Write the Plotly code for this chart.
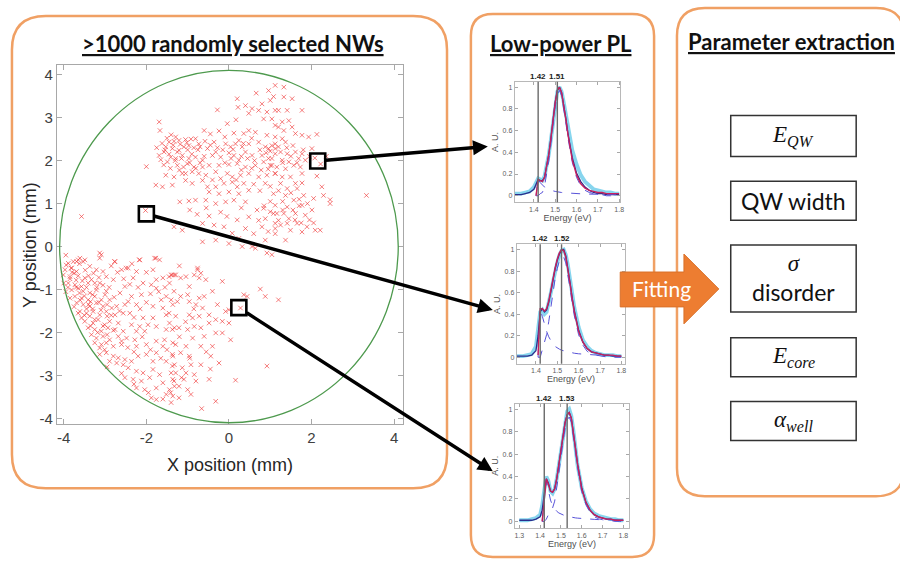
import plotly.graph_objects as go

W, H = 900, 562

# ---------------- nanowire positions on the wafer (mm) ----------------
nw_upper = [
    (0.66, 3.57), (0.96, 3.63), (1.08, 3.49), (0.20, 3.44), (0.80, 3.32), (0.40, 3.28), (0.56, 3.21),
    (0.72, 3.17), (0.92, 3.13), (1.12, 3.17), (-0.28, 3.18), (0.22, 3.24), (0.48, 3.10), (0.84, 2.97),
    (0.17, 2.95), (1.12, 2.82), (-0.04, 2.86), (-1.69, 2.90), (-1.67, 2.70), (-0.60, 2.70), (-0.24, 2.69),
    (0.12, 2.64), (0.36, 2.63), (0.48, 2.70), (0.64, 2.66), (0.92, 2.59), (1.12, 2.55), (0.24, 2.47),
    (-0.81, 2.51), (-1.29, 2.55), (-1.21, 2.47), (-1.05, 2.49), (-1.45, 2.43), (-1.53, 2.32), (-1.57, 2.20),
    (-1.69, 2.12), (-1.37, 2.28), (-1.21, 2.24), (-1.09, 2.32), (-0.97, 2.35), (-0.73, 2.39), (-0.52, 2.28),
    (-0.32, 2.20), (-0.36, 2.43), (-0.08, 2.39), (0.04, 2.32), (0.16, 2.39), (0.32, 2.32), (0.48, 2.39),
    (0.72, 2.43), (0.88, 2.32), (1.04, 2.35), (1.20, 2.32), (-1.41, 2.08), (-1.29, 2.05), (-1.13, 2.12),
    (-0.97, 2.05), (-0.81, 2.08), (-0.64, 2.01), (-0.40, 2.12), (-0.20, 2.08), (0.12, 2.12), (0.24, 2.01),
    (0.40, 2.20), (0.56, 2.12), (0.80, 2.12), (0.96, 2.05), (1.12, 2.16), (-1.49, 1.97), (-1.25, 1.89),
    (-1.01, 1.93), (-0.85, 1.85), (-0.64, 1.85), (-0.48, 1.89), (-0.24, 1.89), (0.00, 1.91), (0.20, 1.93),
    (0.40, 1.85), (0.64, 1.89), (0.84, 1.97), (1.04, 1.89), (-1.53, 1.66), (-1.33, 1.62), (-1.13, 1.70),
    (-0.89, 1.74), (-0.73, 1.70), (-0.56, 1.66), (-0.32, 1.74), (-0.04, 1.70), (0.08, 1.62), (0.28, 1.66),
    (0.48, 1.70), (0.72, 1.62), (0.92, 1.66), (1.12, 1.70), (-1.77, 1.43), (-1.61, 1.39), (-1.37, 1.43),
    (-1.05, 1.54), (-0.89, 1.47), (-0.64, 1.54), (-0.52, 1.39), (-0.32, 1.39), (-0.12, 1.47), (0.08, 1.50),
    (0.20, 1.39), (0.36, 1.47), (0.48, 1.31), (0.88, 1.47), (-0.48, 1.27), (-0.24, 1.23), (0.00, 1.27),
    (0.24, 1.23), (-1.19, 1.04), (-0.97, 1.06), (-0.81, 1.08), (-0.56, 1.08), (-0.32, 1.00), (-0.08, 1.04),
    (0.12, 1.08), (0.40, 1.04), (0.68, 0.85), (0.84, 0.89), (1.00, 0.81), (1.16, 0.77), (-0.77, 0.75),
    (-0.48, 0.71), (0.48, 0.69), (0.72, 0.61), (0.88, 0.65), (-1.33, 0.46), (-1.13, 0.38), (-0.64, 0.54),
    (-0.36, 0.50), (-0.12, 0.46), (0.08, 0.31), (0.40, 0.42), (0.80, 0.46), (1.12, 0.54), (-0.64, 0.11),
    (-0.32, 0.15), (0.00, 0.07), (0.24, 0.19), (0.56, 0.00), (0.88, 0.15),
    (1.12, 3.75), (1.33, 3.71), (1.33, 3.48), (1.53, 3.44), (1.00, 3.40), (1.20, 3.17), (1.41, 3.17),
    (1.77, 3.17), (1.04, 2.97), (1.29, 2.90), (1.45, 2.93), (1.53, 2.78), (1.20, 2.78), (1.33, 2.70),
    (1.61, 2.63), (1.77, 2.59), (1.93, 2.55), (2.13, 2.61), (1.29, 2.51), (1.12, 2.39), (1.37, 2.43),
    (0.96, 2.28), (1.12, 2.28), (1.25, 2.20), (1.41, 2.16), (1.61, 2.20), (1.77, 2.16), (2.01, 2.28),
    (1.04, 2.05), (1.29, 2.01), (1.45, 1.97), (1.69, 2.05), (1.85, 2.01), (1.00, 1.89), (1.16, 1.85),
    (1.37, 1.81), (1.57, 1.89), (1.73, 1.85), (1.12, 1.70), (1.29, 1.62), (1.49, 1.62), (1.77, 1.70),
    (2.13, 1.64), (1.25, 1.47), (1.61, 1.47), (1.77, 1.48), (2.25, 1.39), (1.41, 1.35), (1.65, 1.35),
    (1.08, 1.23), (1.37, 1.19), (1.81, 1.19), (2.29, 1.19), (3.33, 1.19), (1.57, 1.08), (2.05, 1.12),
    (2.45, 1.09), (2.45, 1.00), (1.12, 0.96), (1.41, 0.92), (1.77, 0.96), (2.01, 0.85), (1.08, 0.77),
    (1.33, 0.77), (1.61, 0.77), (1.85, 0.73), (1.20, 0.61), (1.41, 0.54), (1.65, 0.54), (1.89, 0.46),
    (2.09, 0.38), (1.12, 0.42), (1.49, 0.38), (1.77, 0.34), (2.21, 0.38), (1.37, 0.15), (1.12, 0.30),
    (2.08, 2.06), (2.22, 1.92), (2.36, 2.10), (-2.00, 1.86), (-3.57, 0.70), (-2.02, 0.84),
    (-1.55, 2.25), (-1.45, 2.15), (-1.35, 2.36), (-1.25, 2.20), (-1.15, 2.05), (-1.00, 2.25),
    (-0.90, 2.15), (-0.75, 2.25), (-0.60, 2.10), (-1.30, 2.00), (-1.10, 1.85), (-0.70, 1.95),
    (0.64, -0.04), (0.92, -0.15), (1.04, -0.19), (0.32, 0.00),
    (-1.75, 2.30), (-1.62, 2.40), (-1.50, 2.52), (-1.40, 2.60), (-1.33, 2.45), (-1.18, 2.38), (-1.02, 2.42),
    (-0.92, 2.50), (-0.85, 2.30), (-1.65, 2.02), (-1.58, 1.90), (-1.42, 1.82), (-1.20, 1.78), (-1.05, 1.70),
    (-0.95, 1.95), (-0.80, 1.82), (-0.70, 2.32), (-0.58, 2.45), (-0.45, 2.36), (-0.28, 2.30), (-0.15, 2.25),
    (0.00, 2.18), (0.10, 2.26), (0.30, 2.10), (0.45, 2.05), (0.62, 2.00), (0.75, 2.25), (0.90, 2.18),
    (1.00, 2.22), (0.55, 2.52), (0.35, 2.40), (-0.10, 2.55), (-0.45, 2.62), (0.05, 2.05), (-0.10, 1.95),
    (0.30, 1.78), (0.55, 1.82), (0.78, 1.78), (0.95, 1.80), (1.30, 1.95), (1.50, 2.10), (1.65, 1.95),
    (1.80, 2.25), (1.95, 2.10), (1.40, 2.30), (1.55, 2.35), (-0.20, 1.58), (-0.40, 1.55), (0.18, 1.55),
    (0.60, 1.45), (0.75, 1.30), (1.00, 1.40), (1.20, 1.30), (1.50, 1.25), (1.70, 1.10), (1.90, 1.00),
    (1.30, 1.05), (1.00, 1.05), (0.85, 0.95), (1.45, 0.65), (1.60, 0.62), (1.75, 0.55), (1.95, 0.62),
    (1.25, 0.50), (2.05, 0.55), (1.30, 0.85), (1.55, 0.85), (1.70, 0.95), (0.60, 0.30), (0.95, 0.35),
    (0.20, 0.62), (-0.20, 0.80), (-0.05, 0.70), (0.30, 0.90), (-0.95, 0.85), (-0.55, 0.90),
]

nw_lower = [
    (-3.13, -0.15), (-2.76, -0.35), (-2.16, -0.31), (-1.80, -0.27), (-1.68, -0.31), (-3.89, -0.39),
    (-3.77, -0.35), (-3.65, -0.31), (-3.53, -0.35), (-2.44, -0.50), (-2.24, -0.58), (-3.97, -0.54),
    (-3.81, -0.50), (-3.69, -0.58), (-3.37, -0.46), (-3.21, -0.54), (-3.05, -0.58), (-2.60, -0.54),
    (-1.84, -0.54), (-1.40, -0.66), (-1.32, -0.66), (-4.01, -0.66), (-3.85, -0.70), (-3.65, -0.68),
    (-3.49, -0.73), (-3.33, -0.77), (-2.97, -0.70), (-2.80, -0.77), (-2.32, -0.73), (-2.08, -0.85),
    (-1.76, -0.77), (-1.60, -0.73), (-3.89, -0.85), (-3.73, -0.89), (-3.57, -0.93), (-3.41, -0.85),
    (-3.13, -0.85), (-2.52, -0.93), (-1.88, -0.89), (-1.44, -0.85), (-1.76, -0.97), (-3.81, -1.01),
    (-3.65, -0.97), (-3.53, -1.04), (-3.37, -1.08), (-3.21, -1.01), (-2.97, -1.04), (-2.64, -1.08),
    (-2.36, -1.16), (-2.12, -1.12), (-1.52, -1.16), (-1.40, -1.24), (-3.73, -1.16), (-3.57, -1.20),
    (-3.41, -1.24), (-3.25, -1.16), (-3.09, -1.24), (-2.89, -1.24), (-2.44, -1.28), (-1.64, -1.24),
    (-3.69, -1.31), (-3.53, -1.35), (-3.37, -1.39), (-3.21, -1.31), (-3.05, -1.39), (-2.84, -1.43),
    (-2.72, -1.39), (-2.52, -1.35), (-2.24, -1.35), (-1.84, -1.39), (-1.60, -1.43), (-1.36, -1.35),
    (-3.61, -1.51), (-3.45, -1.55), (-3.29, -1.51), (-3.13, -1.59), (-2.97, -1.51), (-2.76, -1.59),
    (-2.56, -1.55), (-2.08, -1.66), (-1.84, -1.66), (-1.52, -1.59), (-3.57, -1.66), (-3.37, -1.62),
    (-3.49, -1.74), (-3.29, -1.78), (-3.17, -1.70), (-3.01, -1.82), (-2.89, -1.74), (-2.68, -1.78),
    (-2.36, -1.82), (-2.16, -1.86), (-1.96, -1.82), (-1.76, -1.86), (-1.44, -1.78), (-3.41, -1.89),
    (-3.25, -1.93), (-3.09, -1.97), (-2.93, -1.89), (-2.76, -1.93), (-2.56, -1.97), (-2.24, -1.97),
    (-2.04, -1.97), (-1.52, -1.93), (-1.32, -1.89), (-3.33, -2.05), (-3.21, -2.13), (-3.05, -2.09),
    (-2.89, -2.17), (-2.68, -2.09), (-2.48, -2.13), (-2.28, -2.17), (-1.76, -2.20), (-1.56, -2.17),
    (-1.36, -2.24), (-3.25, -2.24), (-3.09, -2.28), (-2.97, -2.24), (-2.80, -2.32), (-2.60, -2.28),
    (-2.24, -2.32), (-2.00, -2.28), (-1.60, -2.32), (-3.13, -2.36), (-3.01, -2.40), (-3.13, -2.51),
    (-2.97, -2.47), (-2.80, -2.55), (-2.68, -2.59), (-2.52, -2.63), (-2.20, -2.55), (-2.00, -2.51),
    (-1.76, -2.47), (-1.36, -2.55), (-2.89, -2.67), (-2.72, -2.71), (-2.56, -2.75), (-2.36, -2.67),
    (-1.84, -2.67), (-1.52, -2.67), (-1.32, -2.75), (-2.44, -2.82), (-2.24, -2.90), (-2.08, -2.94),
    (-1.84, -2.86), (-1.68, -2.98), (-1.40, -2.94), (-2.52, -3.05), (-2.32, -3.09), (-2.12, -3.13),
    (-1.92, -3.05), (-1.60, -3.17), (-1.36, -3.09), (-2.24, -3.29), (-2.04, -3.33), (-1.76, -3.29),
    (-1.44, -3.33), (-1.32, -3.25), (-1.88, -3.52), (-1.76, -3.56), (-1.52, -3.44), (-1.36, -3.48),
    (-1.40, -3.63),
    (-1.45, -0.70), (-1.29, -0.66), (-1.17, -0.73), (-0.84, -0.66), (-0.68, -0.62), (-0.56, -0.77),
    (-0.96, -0.93), (-0.76, -0.54), (-1.33, -1.04), (-1.17, -1.16), (-1.00, -1.12), (-0.72, -1.20),
    (-0.60, -1.16), (-0.40, -1.04), (-0.16, -0.81), (-1.25, -1.28), (-0.96, -1.28), (-0.80, -1.35),
    (-0.64, -1.43), (-0.28, -1.35), (-0.08, -1.51), (0.00, -1.47), (0.36, -1.12), (0.44, -1.16),
    (0.76, -0.99), (0.88, -1.16), (1.20, -1.24), (-1.45, -1.55), (-1.29, -1.62), (-0.96, -1.59),
    (-0.88, -1.66), (-0.72, -1.62), (-0.48, -1.59), (-0.32, -1.70), (-0.16, -1.74), (0.00, -1.78),
    (0.28, -1.43), (-1.37, -1.93), (-1.21, -1.89), (-1.00, -1.93), (-0.84, -1.86), (-0.68, -1.89),
    (-0.48, -1.78), (-0.32, -2.01), (-0.16, -2.01), (0.04, -2.17), (-0.60, -2.09), (-0.88, -2.13),
    (-1.29, -2.28), (-1.04, -2.32), (-0.68, -2.32), (-0.40, -2.32), (-1.17, -2.47), (-0.96, -2.55),
    (-1.37, -2.51), (-0.44, -2.55), (-0.24, -2.71), (-1.37, -2.78), (-1.13, -2.82), (-0.92, -2.75),
    (-0.68, -2.75), (-1.29, -2.94), (-1.04, -2.94), (-0.84, -2.98), (-1.33, -3.13), (-1.09, -3.09),
    (-0.80, -3.13), (-0.48, -3.09), (-1.21, -3.25), (-1.00, -3.33), (-1.41, -3.40), (-1.21, -3.52),
    (-0.92, -3.44), (-0.32, -3.60), (-0.66, -3.77), (0.16, -3.11), (0.92, -2.78),
    (-3.94, -0.43), (-3.69, -0.35), (-3.49, -0.31), (-3.13, -0.27), (-2.77, -0.35), (-2.49, -0.50),
    (-2.17, -0.31), (-1.77, -0.27), (-1.37, -0.66), (-1.04, -0.70), (-0.72, -0.73), (-0.76, -0.50),
    (-3.09, -0.19), (-3.61, -0.27), (-3.82, -0.50),
    (-3.75, -0.62), (-3.55, -0.80), (-3.45, -0.95), (-3.30, -1.12), (-3.15, -1.30), (-3.45, -1.45),
    (-3.60, -1.25), (-3.25, -1.70), (-3.05, -1.85), (-2.85, -1.60), (-3.70, -0.95), (-3.85, -0.75),
    (-3.35, -1.28), (-3.20, -0.95), (-2.95, -1.35), (-3.50, -1.60), (-3.90, -0.95), (-3.62, -1.08),
    (-3.00, -1.12), (-2.78, -1.18),
    (-3.95, -0.20), (-3.80, -0.60), (-3.70, -0.78), (-3.62, -0.40), (-3.48, -0.55), (-3.40, -0.68),
    (-3.28, -0.62), (-3.15, -0.72), (-3.05, -0.90), (-2.90, -0.95), (-2.70, -0.60), (-2.55, -0.75),
    (-2.40, -0.88), (-2.20, -0.95), (-3.75, -1.40), (-3.65, -1.55), (-3.40, -1.35), (-3.30, -1.45),
    (-3.10, -1.48), (-2.95, -1.62), (-2.65, -1.50), (-2.40, -1.55), (-2.30, -1.65), (-2.15, -1.45),
    (-2.00, -1.30), (-1.90, -1.10), (-1.70, -1.05), (-1.55, -0.95), (-3.35, -1.85), (-3.18, -2.00),
    (-2.95, -2.05), (-2.80, -1.95), (-2.60, -2.20), (-2.45, -2.35), (-2.30, -2.45), (-2.10, -2.10),
    (-1.90, -2.40), (-1.65, -2.60), (-1.50, -2.40), (-1.20, -2.10), (-1.05, -1.75), (-0.85, -1.45),
    (-2.95, -2.80), (-2.60, -2.95), (-2.30, -3.20), (-1.95, -3.40), (-1.60, -3.55), (-1.15, -3.05),
    (-0.95, -2.60), (-0.55, -2.45), (-0.45, -2.85), (-3.85, -1.20), (-3.95, -1.05), (-4.00, -0.85),
    (-3.50, -1.15), (-3.25, -0.85), (-2.85, -0.45), (-2.35, -0.40), (-2.00, -0.60), (-1.20, -0.45),
]

# three nanowires whose spectra are shown
sel_x = [2.15, -2.00, 0.24]
sel_y = [1.99, 0.76, -1.42]

wafer_radius = 4.1   # mm

# ---------------- low-power PL spectra ----------------
E = [1.30, 1.32, 1.34, 1.36, 1.38, 1.40, 1.41, 1.42, 1.43, 1.44, 1.45, 1.46, 1.47, 1.48, 1.49, 1.50,
     1.51, 1.52, 1.53, 1.54, 1.55, 1.56, 1.57, 1.58, 1.60, 1.62, 1.64, 1.66, 1.68, 1.70, 1.72, 1.74,
     1.76, 1.78, 1.80]

spectra = [
    dict(
        peaks=[1.42, 1.51],
        measured=[.02, .02, .02, .03, .04, .08, .12, .16, .15, .14, .18, .27, .38, .52, .68, .84, .96, 1.00,
                  .96, .86, .74, .62, .51, .42, .29, .19, .13, .09, .06, .05, .04, .03, .03, .02, .02],
        smoothed=[.01, .01, .01, .02, .03, .06, .10, .15, .14, .14, .17, .26, .38, .53, .70, .86, .97, 1.00,
                  .95, .84, .71, .57, .45, .35, .21, .13, .08, .05, .03, .02, .02, .01, .01, .01, .01],
        fit=[None, None, None, None, None, None, .00, .15, .14, .13, .17, .26, .38, .53, .70, .86, .97, 1.00,
             .95, .84, .70, .56, .43, .33, .19, .11, .07, .05, .04, .03, .03, .02, .02, .02, .02],
        qw=[None, None, None, None, None, None, .00, .15, .12, .10, .08, .07, .06, .05, .045, .04, .035, .03,
            .03, .028, .026, .024, .022, .02, .02, .018, .016, .015, .014, .013, .012, .012, .011, .011, .01],
        core=[None, None, None, None, None, None, .00, .00, .02, .03, .09, .19, .32, .48, .655, .82, .935, .97,
              .92, .81, .67, .53, .41, .31, .17, .09, .05, .03, .02, .01, .01, .00, .00, .00, .00],
        ticks=[1.4, 1.5, 1.6, 1.7, 1.8],
        erange=[1.31, 1.805],
    ),
    dict(
        peaks=[1.42, 1.52],
        measured=[.01, .01, .01, .02, .03, .10, .28, .42, .44, .40, .42, .50, .60, .70, .80, .88, .95, .99,
                  1.00, .95, .85, .72, .58, .46, .28, .16, .10, .06, .04, .03, .02, .02, .02, .01, .01],
        smoothed=[.01, .01, .01, .01, .02, .06, .20, .42, .45, .42, .44, .51, .61, .72, .82, .90, .96, .99,
                  1.00, .94, .83, .69, .55, .43, .25, .14, .08, .05, .04, .03, .02, .02, .01, .01, .01],
        fit=[None, None, None, None, None, None, .02, .45, .45, .43, .45, .52, .62, .73, .83, .91, .97, 1.00,
             .99, .93, .82, .68, .54, .42, .24, .14, .08, .05, .04, .03, .02, .02, .02, .01, .01],
        qw=[None, None, None, None, None, None, .00, .45, .38, .30, .24, .19, .15, .12, .10, .085, .075, .065,
            .06, .055, .05, .045, .04, .037, .032, .028, .025, .022, .02, .018, .016, .015, .014, .013, .012],
        core=[None, None, None, None, None, None, .00, .00, .07, .13, .21, .33, .47, .61, .73, .825, .895, .935,
              .93, .875, .77, .635, .50, .383, .208, .112, .055, .028, .02, .012, .004, .00, .00, .00, .00],
        ticks=[1.4, 1.5, 1.6, 1.7, 1.8],
        erange=[1.31, 1.818],
    ),
    dict(
        peaks=[1.42, 1.53],
        measured=[.01, .01, .01, .02, .03, .06, .14, .28, .40, .36, .27, .25, .29, .38, .50, .64, .78, .90,
                  .98, 1.00, .94, .81, .65, .50, .30, .18, .11, .07, .05, .04, .03, .02, .02, .01, .01],
        smoothed=[.01, .01, .01, .01, .02, .04, .10, .25, .38, .34, .27, .26, .29, .38, .50, .64, .77, .88,
                  .95, .97, .92, .80, .65, .51, .30, .17, .10, .06, .04, .03, .02, .02, .01, .01, .01],
        fit=[None, None, None, None, None, None, .00, .22, .38, .33, .27, .26, .29, .38, .50, .64, .77, .88,
             .95, .97, .92, .80, .65, .51, .29, .17, .10, .06, .04, .03, .02, .02, .01, .01, .01],
        qw=[None, None, None, None, None, None, .00, .22, .36, .27, .19, .14, .11, .09, .075, .065, .055, .05,
            .045, .04, .037, .034, .031, .029, .025, .022, .02, .018, .016, .015, .014, .013, .012, .011, .01],
        core=[None, None, None, None, None, None, .00, .00, .02, .06, .08, .12, .18, .29, .425, .575, .715, .83,
              .905, .93, .883, .766, .619, .481, .265, .148, .08, .042, .024, .015, .006, .007, .00, .00, .00],
        ticks=[1.3, 1.4, 1.5, 1.6, 1.7, 1.8],
        erange=[1.278, 1.828],
    ),
]
au_ticks = [0, 0.2, 0.4, 0.6, 0.8, 1]

# extracted parameters (box labels)
SERIF = "Liberation Serif"
param_labels = [
    f"<span style='font-family:{SERIF}'><i>E</i><sub><i>QW</i></sub></span>",
    "QW width",
    f"<span style='font-family:{SERIF}'><i>σ</i></span><br>disorder",
    f"<span style='font-family:{SERIF}'><i>E</i><sub><i>core</i></sub></span>",
    f"<span style='font-family:{SERIF}'><i>α</i><sub><i>well</i></sub></span>",
]

# ---------------- layout helpers (pixel -> paper) ----------------
def px(x):
    return x / W


def py(y):
    return 1 - y / H


MAIN_BOX = (57, 65, 405, 426)           # left, top, right, bottom (px)
MAIN_XR = [-4.17, 4.22]
MAIN_YR = [-4.14, 4.23]
INSET_BOX = [(517, 82, 623, 203), (519, 245, 628, 365), (517, 405, 632, 530)]


def main_to_px(x, y):
    l, t, r, b = MAIN_BOX
    return (l + (x - MAIN_XR[0]) / (MAIN_XR[1] - MAIN_XR[0]) * (r - l),
            b - (y - MAIN_YR[0]) / (MAIN_YR[1] - MAIN_YR[0]) * (b - t))


def rounded_path(x0, y0, x1, y1, r):
    return (f"M {px(x0 + r)},{py(y0)} L {px(x1 - r)},{py(y0)} Q {px(x1)},{py(y0)} {px(x1)},{py(y0 + r)} "
            f"L {px(x1)},{py(y1 - r)} Q {px(x1)},{py(y1)} {px(x1 - r)},{py(y1)} "
            f"L {px(x0 + r)},{py(y1)} Q {px(x0)},{py(y1)} {px(x0)},{py(y1 - r)} "
            f"L {px(x0)},{py(y0 + r)} Q {px(x0)},{py(y0)} {px(x0 + r)},{py(y0)} Z")


def poly_path(pts):
    return "M " + " L ".join(f"{px(a)},{py(b)}" for a, b in pts) + " Z"


fig = go.Figure()

TICK_GREY = "#A8A8A8"
TEXT_GREY = "#404040"

# ---------------- wafer map ----------------
pts = nw_upper + nw_lower
fig.add_trace(go.Scatter(
    x=[p[0] for p in pts], y=[p[1] for p in pts], mode="markers",
    marker=dict(symbol="x-thin", size=4.5, line=dict(width=1, color="rgba(240,55,55,0.65)")),
    xaxis="x", yaxis="y", showlegend=False, hoverinfo="skip"))
fig.add_trace(go.Scatter(
    x=sel_x, y=sel_y, mode="markers",
    marker=dict(symbol="square-open", size=15, line=dict(width=2.6, color="black"), color="black"),
    xaxis="x", yaxis="y", showlegend=False, hoverinfo="skip"))

shapes = [dict(type="circle", xref="x", yref="y", x0=-wafer_radius, x1=wafer_radius,
               y0=-wafer_radius, y1=wafer_radius, line=dict(color="#4E9A4E", width=1.3))]

layout_axes = dict(
    xaxis=dict(domain=[px(MAIN_BOX[0]), px(MAIN_BOX[2])], range=MAIN_XR, anchor="y",
               tickvals=[-4, -2, 0, 2, 4], ticktext=["-4", "-2", "0", "2", "4"],
               ticks="inside", ticklen=5, tickcolor=TICK_GREY, showline=True, linecolor=TICK_GREY,
               mirror="ticks", showgrid=False, zeroline=False,
               tickfont=dict(family="Liberation Sans", size=15, color=TEXT_GREY)),
    yaxis=dict(domain=[py(MAIN_BOX[3]), py(MAIN_BOX[1])], range=MAIN_YR, anchor="x",
               tickvals=[-4, -3, -2, -1, 0, 1, 2, 3, 4],
               ticktext=["-4", "-3", "-2", "-1", "0", "1", "2", "3", "4"],
               ticks="inside", ticklen=5, tickcolor=TICK_GREY, showline=True, linecolor=TICK_GREY,
               mirror="ticks", showgrid=False, zeroline=False,
               tickfont=dict(family="Liberation Sans", size=15, color=TEXT_GREY)),
)

annotations = [
    dict(text="X position (mm)", x=px(231), y=py(467), xref="paper", yref="paper", showarrow=False,
         xanchor="center", yanchor="middle", font=dict(family="Liberation Sans", size=18, color="#262626")),
    dict(text="Y position (mm)", x=px(30), y=py(246), xref="paper", yref="paper", showarrow=False,
         textangle=-90, xanchor="center", yanchor="middle",
         font=dict(family="Liberation Sans", size=18, color="#262626")),
]

# ---------------- spectra insets ----------------
for i, sp in enumerate(spectra):
    k = i + 2
    xa, ya = f"x{k}", f"y{k}"
    l, t, r, b = INSET_BOX[i]
    fig.add_trace(go.Scatter(x=E, y=sp["measured"], mode="lines", line=dict(color="#6ACBEA", width=3.8),
                             opacity=0.8, xaxis=xa, yaxis=ya, showlegend=False, hoverinfo="skip"))
    fig.add_trace(go.Scatter(x=E, y=sp["smoothed"], mode="lines", line=dict(color="#2A2D8C", width=1.3),
                             xaxis=xa, yaxis=ya, showlegend=False, hoverinfo="skip"))
    for key in ("qw", "core"):
        fig.add_trace(go.Scatter(x=E, y=sp[key], mode="lines",
                                 line=dict(color="#5752D8", width=1.0, dash="dash"),
                                 xaxis=xa, yaxis=ya, showlegend=False, hoverinfo="skip"))
    fig.add_trace(go.Scatter(x=E, y=sp["fit"], mode="lines", line=dict(color="#C8205C", width=1.4),
                             xaxis=xa, yaxis=ya, showlegend=False, hoverinfo="skip"))
    for pk in sp["peaks"]:
        shapes.append(dict(type="line", xref=xa, yref=f"{ya} domain", x0=pk, x1=pk, y0=0, y1=1,
                           line=dict(color="#6A6A6A", width=1.4)))
        annotations.append(dict(text=f"<b>{pk:.2f}</b>", x=pk, xref=xa, y=1, yref=f"{ya} domain",
                                yanchor="bottom", xanchor="center", showarrow=False, yshift=-1,
                                font=dict(family="Liberation Sans", size=8, color="#222222")))
    axis_common = dict(ticks="inside", ticklen=3, tickcolor=TICK_GREY, showline=True, linecolor="#B8B8B8",
                       mirror="ticks", showgrid=False, zeroline=False,
                       tickfont=dict(family="Liberation Sans", size=7, color="#606060"))
    layout_axes[f"xaxis{k}"] = dict(domain=[px(l), px(r)], range=sp["erange"], anchor=ya,
                                    tickvals=sp["ticks"], ticktext=[f"{v:.1f}" for v in sp["ticks"]],
                                    title=dict(text="Energy (eV)", standoff=2,
                                               font=dict(family="Liberation Sans", size=9, color="#505050")),
                                    **axis_common)
    layout_axes[f"yaxis{k}"] = dict(domain=[py(b), py(t)], range=[-0.06, 1.05], anchor=xa,
                                    tickvals=au_ticks, ticktext=["0", "0.2", "0.4", "0.6", "0.8", "1"],
                                    title=dict(text="A. U.", standoff=2,
                                               font=dict(family="Liberation Sans", size=9, color="#505050")),
                                    **axis_common)

# ---------------- panels, arrows, parameter boxes ----------------
ORANGE_LINE = "#F0A064"
shapes += [
    dict(type="path", xref="paper", yref="paper", path=rounded_path(12, 16, 449, 490, 34),
         line=dict(color=ORANGE_LINE, width=2.5), layer="below"),
    dict(type="path", xref="paper", yref="paper", path=rounded_path(473, 14, 657, 559, 22),
         line=dict(color=ORANGE_LINE, width=2.5), layer="below"),
    dict(type="path", xref="paper", yref="paper", path=rounded_path(680, 8, 908, 498, 28),
         line=dict(color=ORANGE_LINE, width=2.5), layer="below"),
    dict(type="path", xref="paper", yref="paper",
         path=poly_path([(623, 273), (687, 273), (687, 255), (722, 290), (687, 325), (687, 308), (623, 308)]),
         fillcolor="#ED7D31", line=dict(color="#D9702A", width=1)),
]

PARAM_BOXES = [(116, 157), (182, 221), (246, 313), (339, 378), (403, 442)]
for (t, b), lab in zip(PARAM_BOXES, param_labels):
    shapes.append(dict(type="rect", xref="paper", yref="paper", x0=px(734), x1=px(860), y0=py(b), y1=py(t),
                       line=dict(color="#333333", width=1.5), fillcolor="white"))
    annotations.append(dict(text=lab, x=px(797), y=py((t + b) / 2), xref="paper", yref="paper",
                            showarrow=False, xanchor="center", yanchor="middle",
                            font=dict(family="Lato", size=23, color="#111111")))

for title, cx, cy in [(">1000 randomly selected NWs", 234, 44), ("Low-power PL", 564, 44),
                      ("Parameter extraction", 795, 42)]:
    annotations.append(dict(text=f"<b>{title}</b>", x=px(cx), y=py(cy), xref="paper", yref="paper",
                            showarrow=False, xanchor="center", yanchor="middle",
                            font=dict(family="Lato", size=22, color="#111111", lineposition="under")))

annotations.append(dict(text="Fitting", x=px(664), y=py(290), xref="paper", yref="paper", showarrow=False,
                        xanchor="center", yanchor="middle",
                        font=dict(family="Lato", size=21, color="white")))

# arrows from the selected nanowires to their spectra
tips = [(490, 147), (495, 311), (495, 473)]
for sx, sy, (tx, ty) in zip(sel_x, sel_y, tips):
    cx, cy = main_to_px(sx, sy)
    dx, dy = tx - cx, ty - cy
    s = 7.5 / max(abs(dx), abs(dy))
    tail_x, tail_y = cx + dx * s, cy + dy * s
    annotations.append(dict(text="", x=px(tx), y=py(ty), xref="paper", yref="paper", showarrow=True,
                            ax=tail_x - tx, ay=tail_y - ty, axref="pixel", ayref="pixel",
                            arrowhead=2, arrowsize=0.85, arrowwidth=3.5, arrowcolor="black", standoff=0))

fig.update_layout(
    width=W, height=H, autosize=False, margin=dict(l=0, r=0, t=0, b=0),
    paper_bgcolor="white", plot_bgcolor="rgba(0,0,0,0)",
    font=dict(family="Liberation Sans"),
    shapes=shapes, annotations=annotations, showlegend=False,
    **layout_axes,
)

fig.write_html("out.html")
